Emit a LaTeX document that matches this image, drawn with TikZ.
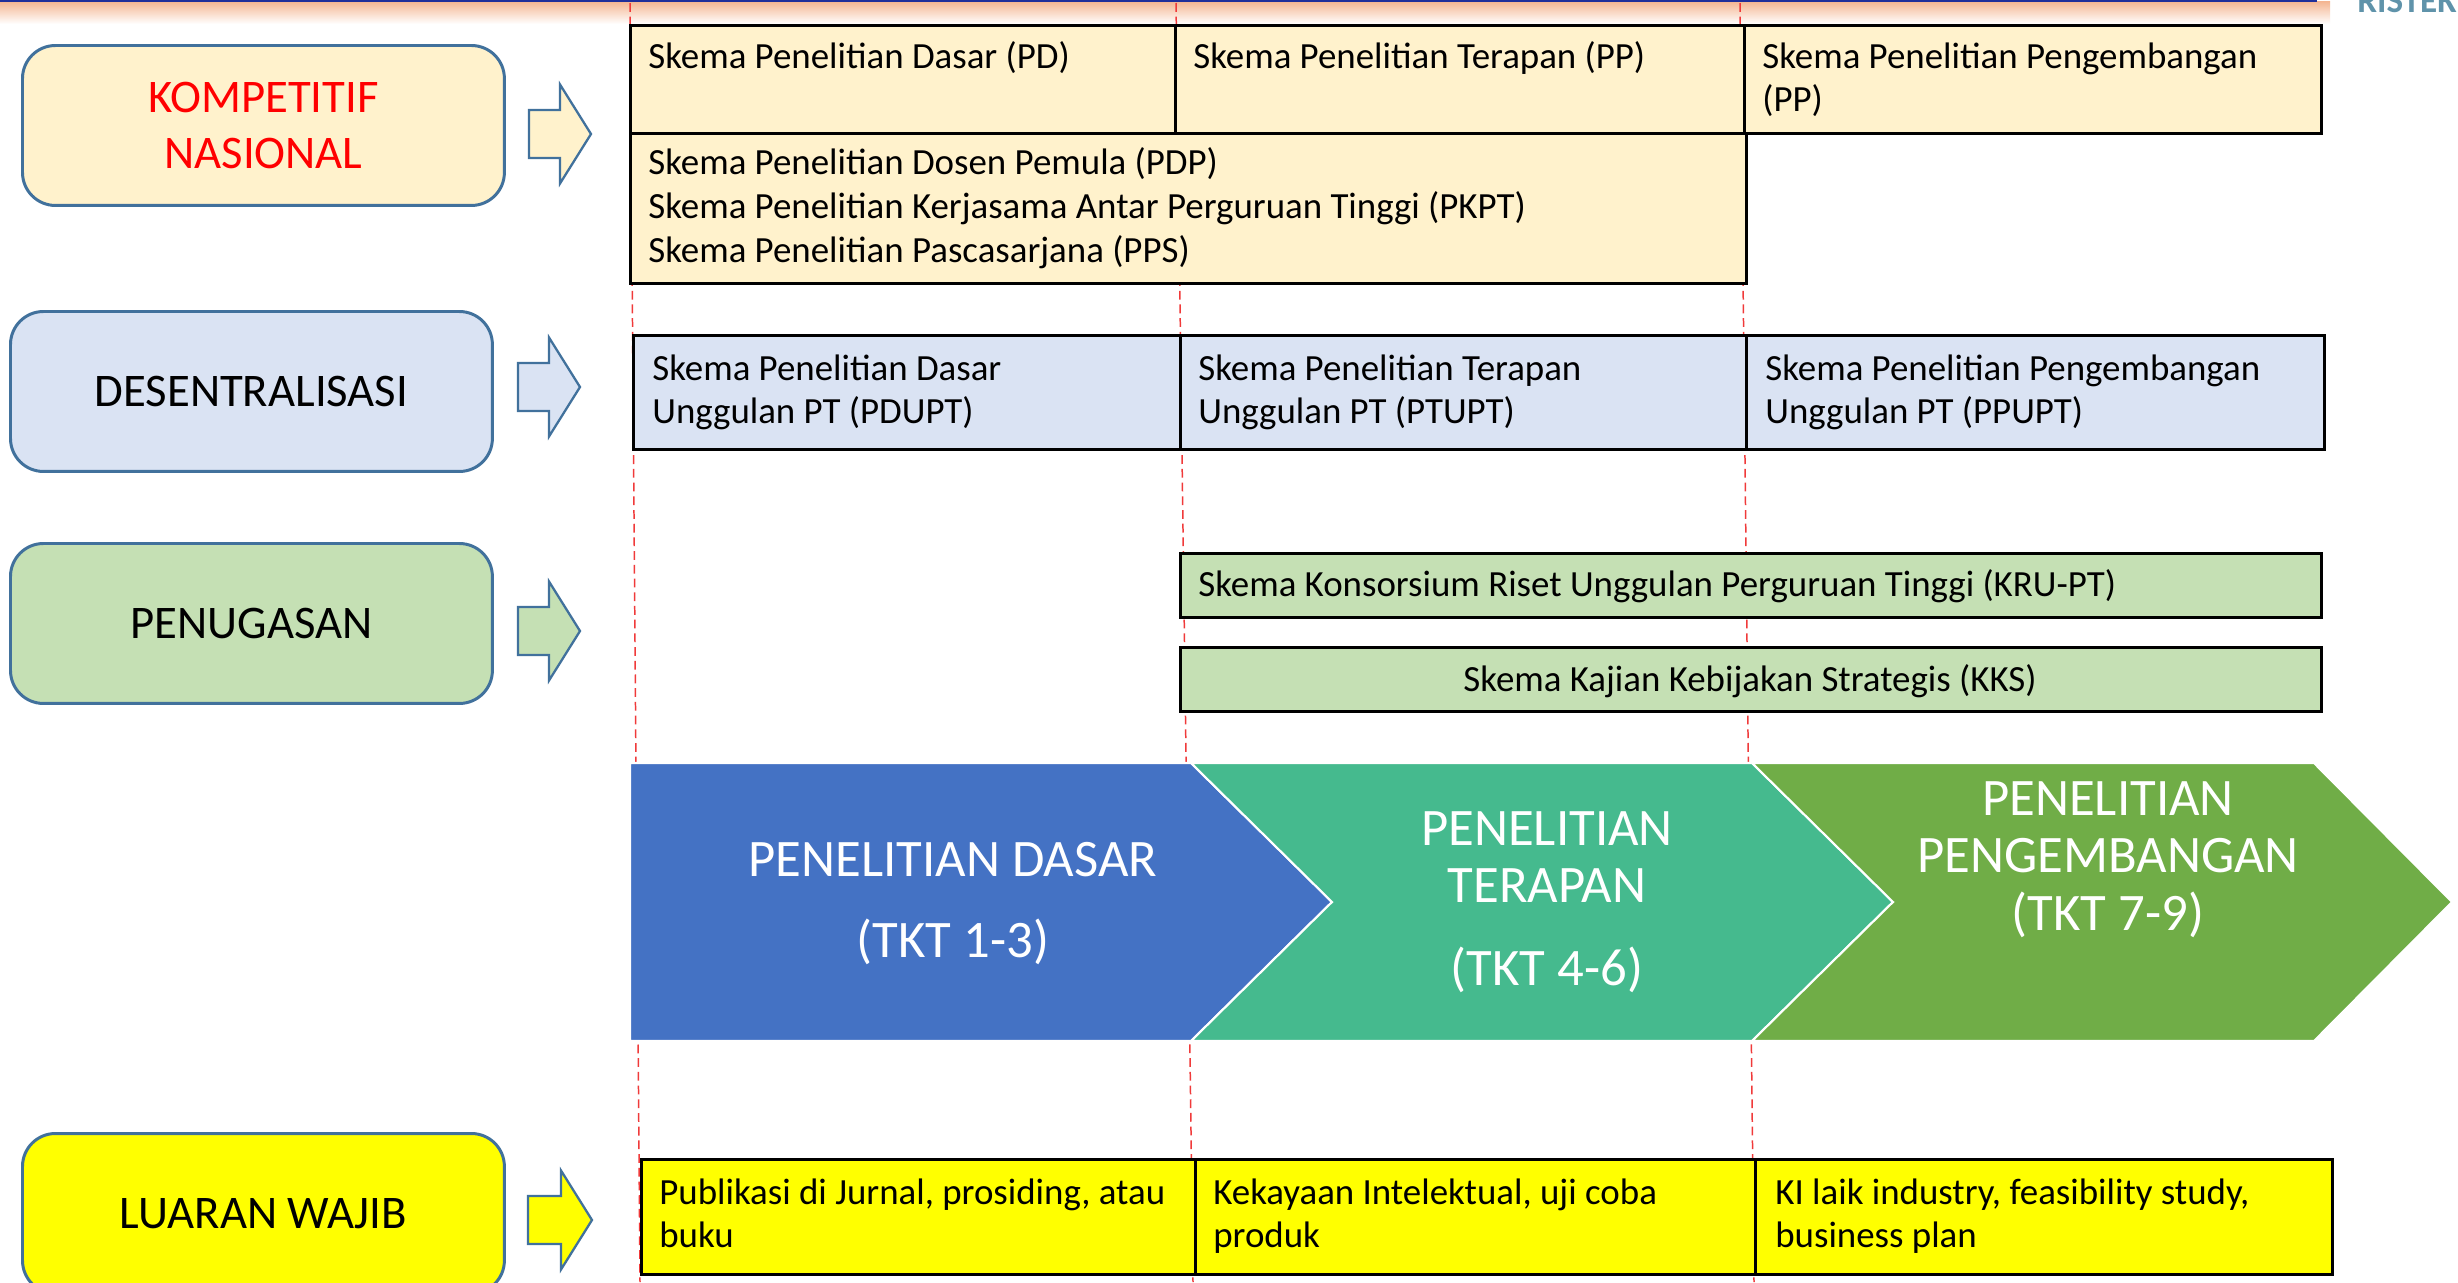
\documentclass[tikz,border=0pt]{standalone}
\usepackage{fontspec}
\setmainfont{Carlito}
\definecolor{cream}{HTML}{FFF2CC}
\definecolor{lblue}{HTML}{DAE3F3}
\definecolor{lgreen}{HTML}{C5E0B4}
\definecolor{yel}{HTML}{FFFF00}
\definecolor{steel}{HTML}{41719C}
\definecolor{chblue}{HTML}{4472C4}
\definecolor{chteal}{HTML}{45BA8E}
\definecolor{chgreen}{HTML}{70AD47}
\definecolor{bandor}{HTML}{F4B48F}
\definecolor{bandblue}{HTML}{1F2F9A}
\definecolor{ristek}{HTML}{5F93AA}
\definecolor{dashred}{HTML}{F03A3A}
\newcommand\tlines[1]{\begin{tabular}[t]{@{}l@{}}#1\end{tabular}}
\newcommand\clines[1]{\begin{tabular}[t]{@{}c@{}}#1\end{tabular}}
\newcommand\blockarrow[5]{%
  \filldraw[fill=#5, draw=steel, line width=1.3pt, line join=miter]
    (#1,{#4-24}) -- (#2,{#4-24}) -- (#2,{#4-49.5}) -- (#3,#4)
    -- (#2,{#4+49.5}) -- (#2,{#4+24}) -- (#1,{#4+24}) -- cycle;}
\tikzset{
  lbl/.style={rectangle, rounded corners=0.66cm, draw=steel, line width=1.7pt,
    minimum width=9.64cm, minimum height=3.2cm, inner sep=0pt, anchor=north west,
    align=center, font=\fontsize{26.6}{31.7}\selectfont},
  cellbox/.style={rectangle, draw=black, line width=1.6pt, inner sep=0pt, anchor=north west},
  celltxt/.style={inner sep=0pt, anchor=base west, font=\fontsize{21}{24.95}\selectfont},
  chevtxt/.style={inner sep=0pt, anchor=base, text=white, font=\fontsize{30}{32.9}\selectfont},
  chev/.style={draw=white, line width=1.2pt, line join=miter},
  redline/.style={draw=dashred, line width=0.85pt, dash pattern=on 5pt off 2.8pt},
}
\begin{document}
\begin{tikzpicture}[x=0.02cm, y=-0.02cm]
\useasboundingbox (0,0) rectangle (2458,1282);
\fill[white] (0,0) rectangle (2458,1282);
% top band
\shade[top color=bandor, bottom color=white] (0,1) rectangle (2330,24);
\draw[bandblue, line width=1.2pt] (0,0.6) -- (2317,0.6);
\node[anchor=base west, inner sep=0pt, text=ristek, font=\fontsize{20}{24}\selectfont\bfseries] (logo) at (2357,12) {RISTEKDIKTI};
% dashed guide lines
\coordinate (g1a) at (630,3);  \coordinate (g1b) at (640,1282);
\coordinate (g2a) at (1176,3); \coordinate (g2b) at (1193,1282);
\coordinate (g3a) at (1740,3); \coordinate (g3b) at (1754,1282);
\draw[redline] (g1a) -- (g1b);
\draw[redline] (g2a) -- (g2b);
\draw[redline] (g3a) -- (g3b);

% left category boxes
\node[lbl, fill=cream, text=red] (komp) at (21,44) {KOMPETITIF\\NASIONAL};
\node[lbl, fill=lblue] (desen) at (9,310) {DESENTRALISASI};
\node[lbl, fill=lgreen] (penug) at (9,542) {PENUGASAN};
\node[lbl, fill=yel] (luaran) at (21,1132) {LUARAN WAJIB};

% block arrows
\blockarrow{529}{560}{591}{134}{cream}
\blockarrow{518}{549}{580}{387}{lblue}
\blockarrow{518}{549}{580}{631}{lgreen}
\blockarrow{528}{561}{592}{1220}{yel}

% Kompetitif table
\node[cellbox, fill=cream, minimum width=10.90cm, minimum height=2.16cm] (kA) at (629,24) {};
\node[cellbox, fill=cream, minimum width=11.38cm, minimum height=2.16cm] (kB) at (1174,24) {};
\node[cellbox, fill=cream, minimum width=11.54cm, minimum height=2.16cm] (kC) at (1743,24) {};
\node[cellbox, fill=cream, minimum width=22.32cm, minimum height=3.00cm] (kD) at (629,132) {};
\node[celltxt] (kAt) at (648,68) {Skema Penelitian Dasar (PD)};
\node[celltxt] (kBt) at (1193,68) {Skema Penelitian Terapan (PP)};
\node[celltxt] (kCt) at (1762,68) {\tlines{Skema Penelitian Pengembangan\\(PP)}};
\node[celltxt] (kDt) at (648,174.5) {\tlines{Skema Penelitian Dosen Pemula (PDP)\\Skema Penelitian Kerjasama Antar Perguruan Tinggi (PKPT)\\Skema Penelitian Pascasarjana (PPS)}};

% Desentralisasi table
\node[cellbox, fill=lblue, minimum width=10.94cm, minimum height=2.28cm] (dA) at (632,334) {};
\node[cellbox, fill=lblue, minimum width=11.32cm, minimum height=2.28cm] (dB) at (1179,334) {};
\node[cellbox, fill=lblue, minimum width=11.56cm, minimum height=2.28cm] (dC) at (1745,334) {};
\node[celltxt] (dAt) at (652,380) {\tlines{Skema Penelitian Dasar\\Unggulan PT (PDUPT)}};
\node[celltxt] (dBt) at (1198,380) {\tlines{Skema Penelitian Terapan\\Unggulan PT (PTUPT)}};
\node[celltxt] (dCt) at (1765,380) {\tlines{Skema Penelitian Pengembangan\\Unggulan PT (PPUPT)}};

% Penugasan rows
\node[cellbox, fill=lgreen, minimum width=22.82cm, minimum height=1.28cm] (pA) at (1179,552) {};
\node[cellbox, fill=lgreen, minimum width=22.82cm, minimum height=1.28cm] (pB) at (1179,646) {};
\node[celltxt] (pAt) at (1198,596) {Skema Konsorsium Riset Unggulan Perguruan Tinggi (KRU-PT)};
\node[celltxt, anchor=base] (pBt) at (1750,691) {Skema Kajian Kebijakan Strategis (KKS)};

% chevrons
\path[chev, fill=chblue] (630,763) -- (1191,763) -- (1332,902) -- (1191,1041) -- (630,1041) -- cycle;
\path[chev, fill=chteal] (1191,763) -- (1752,763) -- (1893,902) -- (1752,1041) -- (1191,1041) -- (1332,902) -- cycle;
\path[chev, fill=chgreen] (1752,763) -- (2314,763) -- (2452,902) -- (2314,1041) -- (1752,1041) -- (1893,902) -- cycle;
\node[chevtxt] (cA) at (953,876) {\clines{PENELITIAN DASAR\\[13.6pt](TKT 1-3)}};
\node[chevtxt] (cB) at (1547,845) {\clines{PENELITIAN\\TERAPAN\\[14.2pt](TKT 4-6)}};
\node[chevtxt] (cC) at (2108,815) {\clines{PENELITIAN\\PENGEMBANGAN\\(TKT 7-9)}};

% Luaran table
\node[cellbox, fill=yel, minimum width=11.08cm, minimum height=2.30cm] (lA) at (640,1158) {};
\node[cellbox, fill=yel, minimum width=11.20cm, minimum height=2.30cm] (lB) at (1194,1158) {};
\node[cellbox, fill=yel, minimum width=11.54cm, minimum height=2.30cm] (lC) at (1754,1158) {};
\node[celltxt] (lAt) at (659,1204) {\tlines{Publikasi di Jurnal, prosiding, atau\\buku}};
\node[celltxt] (lBt) at (1213,1204) {\tlines{Kekayaan Intelektual, uji coba\\produk}};
\node[celltxt] (lCt) at (1775,1204) {\tlines{KI laik industry, feasibility study,\\business plan}};
\end{tikzpicture}
\end{document}
